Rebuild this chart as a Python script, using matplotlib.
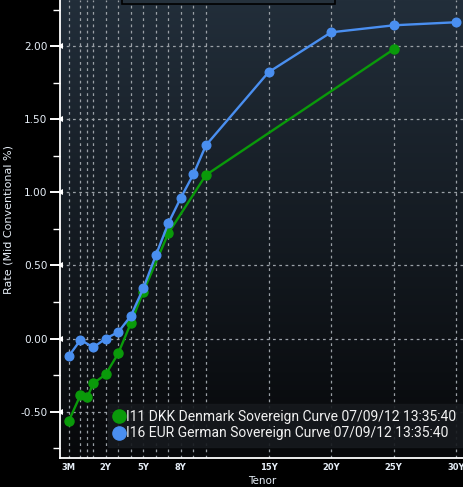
import numpy as np
import matplotlib
matplotlib.use("Agg")
import matplotlib.pyplot as plt
from matplotlib.patches import Rectangle
from matplotlib.lines import Line2D

# ---------------- data ----------------
grid_tenors = [0.25, 0.5, 0.75, 1, 2, 3, 4, 5, 6, 7, 8, 9, 10, 15, 20, 25, 30]
label_tenors = [0.25, 2, 5, 8, 15, 20, 25, 30]
label_text = ["3M", "2Y", "5Y", "8Y", "15Y", "20Y", "25Y", "30Y"]

dkk_tenor = [0.25, 0.5, 0.75, 1, 2, 3, 4, 5, 7, 10, 25]
dkk_rate = [-0.564, -0.386, -0.402, -0.306, -0.245, -0.101, 0.104, 0.320, 0.720, 1.118, 1.978]

eur_tenor = [0.25, 0.5, 1, 2, 3, 4, 5, 6, 7, 8, 9, 10, 15, 20, 25, 30]
eur_rate = [-0.12, -0.01, -0.06, 0.00, 0.044, 0.154, 0.343, 0.569, 0.788, 0.963, 1.123, 1.321,
            1.821, 2.094, 2.142, 2.163]

y_major = [-0.5, 0.0, 0.5, 1.0, 1.5, 2.0]
y_minor = [-0.75, -0.25, 0.25, 0.75, 1.25, 1.75, 2.25]

dkk_label = "I11 DKK Denmark Sovereign Curve 07/09/12 13:35:40"
eur_label = "I16 EUR German Sovereign Curve 07/09/12 13:35:40"

# ---------------- tenor scale (Bloomberg-like stretched short end) ----------------
_t_anchor = np.array([0.0, 0.25, 0.5, 0.75, 1.0, 2.0, 30.0, 40.0])
_p_anchor = np.array([0.0, 8.8, 20.5, 27.2, 33.5, 45.8, 396.8, 522.2])

def fwd(t):
    return np.interp(t, _t_anchor, _p_anchor)

def inv(p):
    return np.interp(p, _p_anchor, _t_anchor)

GREEN = "#0a9a0a"
BLUE = "#4a8ff0"
TXT = "#e6eef7"

W, H = 464, 487
fig = plt.figure(figsize=(W / 100, H / 100), dpi=100, facecolor="black")
ax = fig.add_axes([60 / W, (H - 457.7) / H, (W - 60) / W, 457.7 / H])
ax.set_facecolor("black")
ax.set_xscale("function", functions=(fwd, inv))
ax.set_xlim(0.0, inv(404.5))
ax.set_ylim(-0.815, 2.315)

# gradient background
grad = np.linspace(0, 1, 256).reshape(-1, 1)
top = np.array([0x22, 0x2e, 0x3a]) / 255
bot = np.array([0x07, 0x08, 0x0a]) / 255
img = top[None, None, :] * (1 - grad[..., None]) + bot[None, None, :] * grad[..., None]
ax.imshow(img, extent=[0, 1, 0, 1], transform=ax.transAxes, aspect="auto", zorder=0)

# grid
ax.set_xticks(label_tenors)
ax.set_xticklabels(label_text)
ax.set_xticks(grid_tenors, minor=True)
ax.set_yticks(y_major)
ax.set_yticklabels([f"{v:.2f}" for v in y_major])
ax.set_yticks(y_minor, minor=True)
for t in grid_tenors:
    ax.axvline(t, color="#9aa0a6", lw=0.9, ls=(0, (2.2, 2.8)), zorder=1)
for v in y_major:
    ax.axhline(v, color="#9aa0a6", lw=0.9, ls=(0, (2.2, 2.8)), zorder=1)

# series
ax.plot(dkk_tenor, dkk_rate, color=GREEN, lw=1.7, marker="o", ms=6.5, zorder=3)
ax.plot(eur_tenor, eur_rate, color=BLUE, lw=1.7, marker="o", ms=6.2, zorder=4)

# spines / ticks
for s in ["top", "right"]:
    ax.spines[s].set_visible(False)
for s in ["left", "bottom"]:
    ax.spines[s].set_color("white")
    ax.spines[s].set_linewidth(1.3)
ax.tick_params(axis="x", which="both", length=0, pad=4, labelsize=6.0, labelcolor=TXT)
for lab in ax.get_xticklabels():
    lab.set_fontweight("bold")
ax.tick_params(axis="y", which="major", length=7, width=1.4, color="white", pad=2,
               labelsize=7.6, labelcolor=TXT)
ax.tick_params(axis="y", which="minor", length=5, width=1.0, color="white")
# arrow-shaped major tick heads
ax.plot([0] * len(y_major), y_major, ls="none", marker="<", ms=4, color="white",
        transform=ax.get_yaxis_transform(), clip_on=False, zorder=5,
        markeredgewidth=0)

ax.set_xlabel("Tenor", color=TXT, fontsize=7.5, labelpad=3)
ax.set_ylabel("Rate (Mid Conventional %)", color=TXT, fontsize=8)
ax.yaxis.set_label_coords(-0.115, 0.52)

# legend
handles = [Line2D([], [], ls="none", marker="o", ms=9.5, color=GREEN),
           Line2D([], [], ls="none", marker="o", ms=9.5, color=BLUE)]
leg = ax.legend(handles, [dkk_label, eur_label], loc="lower right",
                bbox_to_anchor=(0.995, 0.024), frameon=True,
                prop={"family": "Roboto", "size": 10},
                handlelength=0.6, handletextpad=0.2, borderpad=0.45,
                labelspacing=0.18, borderaxespad=0.0)
fr = leg.get_frame()
fr.set_facecolor("#16191d")
fr.set_edgecolor("#16191d")
fr.set_alpha(0.92)
fr.set_boxstyle("square", pad=0)
for t in leg.get_texts():
    t.set_color("#f2f2f2")

# cut-off box at the top
fig.patches.append(Rectangle((122 / W, 1 - 3.5 / H), 213 / W, 0.05, transform=fig.transFigure,
                             facecolor="#25313c", edgecolor="black", lw=1.2, zorder=10))

fig.savefig("out.png", dpi=100, facecolor="black")
